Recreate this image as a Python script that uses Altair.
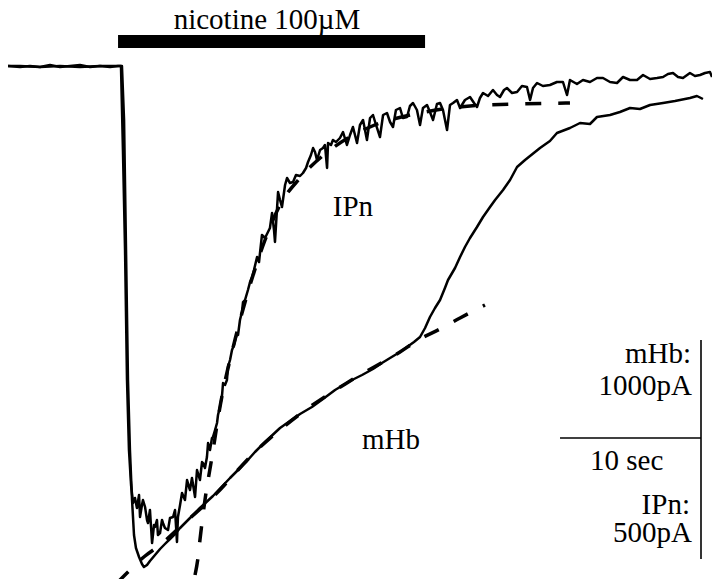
import altair as alt
import pandas as pd

# ---- data: time (s from nicotine onset), current (% of peak, inward negative)
ipn_t = [-8.00, -7.14, -6.43, -5.71, -5.00, -4.29, -3.57, -2.86, -2.14, -1.43, -0.71, -0.14, 0.07,
         0.21, 0.36, 0.50, 0.64, 0.79, 0.93,
         1.07, 1.21, 1.36, 1.43, 1.57, 1.64, 1.79, 1.93, 2.00, 2.14, 2.29, 2.43, 2.50, 2.64, 2.71, 2.86,
         3.00, 3.07, 3.21, 3.43, 3.57, 3.79, 3.93, 4.07, 4.14, 4.29, 4.43, 4.64, 4.79, 4.93, 5.00, 5.14,
         5.36, 5.50, 5.71, 5.86, 5.93, 6.07, 6.21, 6.29, 6.43, 6.57, 6.64, 6.79, 6.93, 7.00, 7.14, 7.29,
         7.36, 7.50, 7.64, 7.71, 7.86, 8.00, 8.14, 8.36, 8.43, 8.57, 8.71, 8.79, 8.93, 9.14, 9.29, 9.43,
         9.57, 9.79, 9.93, 10.14, 10.36, 10.57, 10.71, 10.86, 11.00, 11.07, 11.21, 11.29, 11.43, 11.57,
         11.79, 11.93, 12.14, 12.36, 12.57, 12.86, 13.07, 13.29, 13.43, 13.64, 13.79, 13.93, 14.07, 14.29,
         14.50, 14.64, 14.79, 14.86, 15.07, 15.21, 15.43, 15.71, 15.93, 16.21, 16.43, 16.64, 16.93, 17.14,
         17.36, 17.64, 17.86, 18.07, 18.29, 18.57, 18.79, 19.07, 19.29, 19.50, 19.71, 20.00, 20.21, 20.50,
         20.71, 20.93, 21.21, 21.43, 21.64, 21.93, 22.14, 22.36, 22.64, 22.86, 23.07, 23.36, 23.57, 23.79,
         24.07, 24.29, 24.64, 25.00, 25.29, 25.50, 25.71, 25.93, 26.29, 26.64, 26.93, 27.14, 27.43, 27.64,
         28.00, 28.36, 28.71, 29.07, 29.29, 29.50, 29.79, 30.21, 30.71, 31.21, 31.64, 31.93, 32.14, 32.64,
         33.07, 33.57, 34.07, 34.50, 35.00, 35.50, 35.93, 36.43, 36.93, 37.36, 37.86, 38.36, 38.79, 39.14,
         39.50, 39.86, 40.21, 40.71, 41.07, 41.43, 41.79, 42.14, 42.29]
ipn_i = [0, -0.2, 0, -0.2, 0.2, -0.2, 0, 0.2, -0.2, 0, -0.2, 0, 0,
         -16.8, -36.8, -62.8, -76.8, -83.8, -87.4,
         -86.4, -88.4, -85.8, -90.2, -87.8, -86.8, -88.2, -90.8, -91.4, -88.8, -95.4, -91.8, -92.2, -90.8, -93.8, -93.4,
         -90.8, -91.4, -92.4, -92.8, -90.4, -90.2, -88.8, -95.2, -90.2, -87.8, -85.4, -86.8, -82.8, -84.2, -84.8, -82.4,
         -86.2, -80.8, -82.8, -79.2, -79.4, -80.4, -78.2, -75.4, -76.8, -74.4, -74.2, -72.8, -71.4, -69.8, -68.2, -65.8,
         -63.4, -63.8, -62.8, -60.2, -58.8, -56.8, -55.8, -53.4, -53.8, -50.8, -49.2, -47.2, -46.8, -44.8, -43.2, -42.2,
         -40.8, -38.2, -39.2, -33.8, -34.4, -33.2, -32.4, -29.4, -32.8, -35.2, -28.8, -25.2, -26.8, -28.2,
         -23.8, -22.4, -23.4, -23.2, -21.8, -22.0, -21.4, -20.4, -19.2, -17.8, -16.4, -17.2, -18.8, -16.8,
         -16.4, -15.8, -20.4, -15.4, -15.8, -14.8, -15.2, -14.4, -13.2, -15.8, -13.8, -12.2, -15.4, -11.8,
         -10.8, -14.8, -10.4, -9.8, -11.8, -14.2, -9.8, -9.4, -11.2, -12.2, -8.8, -8.4, -10.4, -10.2,
         -8.0, -7.4, -8.8, -11.8, -8.4, -7.8, -9.2, -10.8, -7.6, -7.4, -8.8, -12.8, -7.8, -7.4,
         -6.8, -8.4, -6.8, -6.2, -7.4, -8.2, -6.4, -5.4, -6.0, -4.8, -5.8, -6.2, -4.8, -4.4,
         -5.4, -5.2, -4.0, -4.2, -6.8, -4.4, -3.4, -4.0, -3.8, -3.2, -3.2, -5.8, -2.8, -3.6,
         -2.8, -3.2, -2.4, -2.4, -3.2, -3.4, -2.2, -2.8, -2.8, -1.8, -2.6, -2.4, -2.2, -1.6,
         -1.4, -2.2, -2.4, -1.4, -2.0, -1.8, -1.4, -1.2, -2.2]

mhb_t = [-8.00, -7.14, -5.71, -4.29, -2.86, -1.43, -0.07, 0.14,
         0.29, 0.43, 0.57, 0.71, 0.86, 1.00, 1.14, 1.36, 1.57, 1.71, 1.93, 2.14, 2.50, 2.86, 3.21, 3.57,
         3.93, 4.29, 5.00, 5.71, 6.64, 7.86, 9.07, 9.64, 10.36, 11.43, 12.14, 12.86, 13.71, 14.50, 15.36,
         16.43, 17.29, 18.07, 18.71, 19.29, 20.00, 20.50, 21.00, 21.43, 21.79, 22.14, 22.50, 22.86, 23.21,
         23.43, 23.93, 24.29, 24.64, 25.00, 25.50, 25.93, 26.43, 26.79, 27.36, 27.86, 28.36, 28.93, 30.00,
         30.71, 31.21, 32.14, 32.86, 33.57, 34.07, 35.00, 35.71, 36.43, 37.14, 37.86, 38.79, 39.64, 40.71,
         41.21, 41.64]
mhb_i = [0, 0, -0.2, 0, -0.2, 0, 0, 0,
         -10.8, -36.8, -62.8, -76.8, -86.8, -93.8, -96.4, -98.2, -99.6, -100.2, -99.8, -99.0, -97.8, -96.6, -95.6, -94.6,
         -93.6, -92.4, -90.4, -88.4, -86.0, -82.4, -79.0, -77.2, -75.2, -72.4, -71.0, -69.6, -68.2, -66.6, -64.8,
         -63.0, -61.8, -60.6, -59.4, -58.4, -57.2, -56.2, -55.2, -54.2, -52.4, -50.2, -48.4, -46.8, -44.4,
         -42.8, -40.4, -38.2, -36.2, -34.4, -32.2, -30.2, -28.2, -26.8, -24.8, -22.8, -20.2, -18.8, -16.4,
         -15.0, -13.4, -12.4, -11.4, -11.6, -10.2, -9.8, -9.2, -8.4, -8.6, -7.8, -7.4, -7.0, -6.4,
         -6.0, -6.6]

ipn_fit_t = [5.36, 5.57, 5.71, 6.07, 6.57, 7.14, 8.21, 9.29, 10.36, 11.43, 12.86, 15.00, 17.86,
             21.43, 25.00, 28.57, 32.14]
ipn_fit_i = [-101.8, -98.4, -94.8, -86.8, -78.2, -68.2, -54.8, -43.8, -34.8, -27.8, -22.4, -16.8, -12.2,
             -9.4, -8.0, -7.6, -7.4]

mhb_fit_t = [-0.21, 0.57, 1.79, 2.86, 4.29, 6.64, 9.64, 12.86, 16.43, 20.00, 21.43, 22.86, 24.29, 26.07]
mhb_fit_i = [-103.4, -101.2, -98.0, -95.8, -92.2, -86.2, -77.2, -69.6, -63.0, -57.2, -54.6, -52.6, -50.4, -47.8]

# nicotine application bar (start, end in s; top/bottom in plot units)
bar_t = [-0.14, 21.79]
bar_i = [6.2, 3.6]

# scale bars
sb_v_t = 41.5
sb_v_i = [-54.8, -98.6]
sb_h_t = [31.43, 41.5]
sb_h_i = -74.4

labels_center = ["nicotine 100\u00b5M"]
labels_center_t = [10.5]
labels_center_i = [7.4]
labels_left = ["IPn", "mHb", "10 sec"]
labels_left_t = [15.2, 17.29, 33.57]
labels_left_i = [-30.0, -76.6, -80.8]
labels_right = ["mHb:", "1000pA", "IPn:", "500pA"]
labels_right_t = [40.79, 40.86, 40.71, 40.86]
labels_right_i = [-59.4, -65.8, -89.6, -95.2]

# ---- scales
xs = alt.Scale(domain=[-8.0, 42.2857], nice=False, zero=False)
ys = alt.Scale(domain=[-102.6, 11.6], nice=False, zero=False)
X = lambda f: alt.X(f, type="quantitative", scale=xs, axis=None)
Y = lambda f: alt.Y(f, type="quantitative", scale=ys, axis=None)

def trace(t, i):
    return pd.DataFrame({"t": t, "I": i, "k": list(range(len(t)))})

ipn = alt.Chart(trace(ipn_t, ipn_i)).mark_line(color="black", strokeWidth=2.5, strokeJoin="round").encode(
    x=X("t"), y=Y("I"), order="k:Q")
mhb = alt.Chart(trace(mhb_t, mhb_i)).mark_line(color="black", strokeWidth=2.5, strokeJoin="round").encode(
    x=X("t"), y=Y("I"), order="k:Q")
ipn_fit = alt.Chart(trace(ipn_fit_t, ipn_fit_i)).mark_line(
    color="black", strokeWidth=3.5, strokeDash=[16, 17], interpolate="monotone").encode(
    x=X("t"), y=Y("I"), order="k:Q")
mhb_fit = alt.Chart(trace(mhb_fit_t, mhb_fit_i)).mark_line(
    color="black", strokeWidth=3.5, strokeDash=[16, 17], interpolate="monotone").encode(
    x=X("t"), y=Y("I"), order="k:Q")

bar = alt.Chart(pd.DataFrame({"t0": [bar_t[0]], "t1": [bar_t[1]], "i0": [bar_i[0]], "i1": [bar_i[1]]})).mark_rect(
    color="black").encode(x=X("t0"), x2="t1", y=Y("i0"), y2="i1")

vbar = alt.Chart(pd.DataFrame({"t": [sb_v_t], "i0": [sb_v_i[0]], "i1": [sb_v_i[1]]})).mark_rule(
    color="black", strokeWidth=1.6).encode(x=X("t"), y=Y("i0"), y2="i1")
hbar = alt.Chart(pd.DataFrame({"t0": [sb_h_t[0]], "t1": [sb_h_t[1]], "i": [sb_h_i]})).mark_rule(
    color="black", strokeWidth=1.6).encode(x=X("t0"), x2="t1", y=Y("i"))

font = "Liberation Serif"
def texts(lbl, t, i, align, size):
    return alt.Chart(pd.DataFrame({"s": lbl, "t": t, "I": i})).mark_text(
        font=font, fontSize=size, color="black", align=align, baseline="alphabetic").encode(
        x=X("t"), y=Y("I"), text="s:N")

chart = alt.layer(
    bar, mhb_fit, ipn_fit, mhb, ipn, vbar, hbar,
    texts(labels_center, labels_center_t, labels_center_i, "center", 29),
    texts(labels_left, labels_left_t, labels_left_i, "left", 29),
    texts(labels_right, labels_right_t, labels_right_i, "right", 29),
).properties(
    width=704, height=571, padding=0, background="white",
    autosize=alt.AutoSizeParams(type="none"),
).configure_view(stroke=None)

chart.save("out.html", embed_options={"renderer": "svg", "actions": False})
